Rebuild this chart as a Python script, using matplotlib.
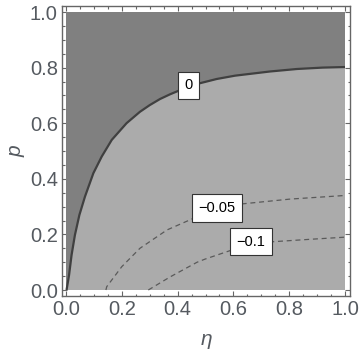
import matplotlib
matplotlib.use("Agg")
import matplotlib.pyplot as plt
from matplotlib.ticker import MultipleLocator
import numpy as np

# ---- data ----
levels = ["0", "\u22120.05", "\u22120.1"]

eta_0 = [0.002, 0.011, 0.020, 0.032, 0.048, 0.068, 0.098, 0.128, 0.164, 0.217,
         0.265, 0.300, 0.337, 0.373, 0.409, 0.473, 0.540, 0.606, 0.731, 0.828,
         0.920, 1.000]
p_0 = [0.000, 0.054, 0.126, 0.198, 0.270, 0.336, 0.420, 0.480, 0.540, 0.600,
       0.641, 0.665, 0.687, 0.704, 0.719, 0.742, 0.759, 0.771, 0.786, 0.795,
       0.800, 0.802]

eta_m005 = [0.143, 0.146, 0.200, 0.265, 0.362, 0.455, 0.541, 0.624, 0.803, 1.000]
p_m005 = [0.000, 0.012, 0.084, 0.150, 0.216, 0.257, 0.287, 0.309, 0.327, 0.340]

eta_m01 = [0.295, 0.373, 0.470, 0.498, 0.595, 0.663, 0.731, 0.885, 1.000]
p_m01 = [0.000, 0.047, 0.100, 0.111, 0.144, 0.160, 0.173, 0.183, 0.190]

xticks = [0.0, 0.2, 0.4, 0.6, 0.8, 1.0]
yticks = [0.0, 0.2, 0.4, 0.6, 0.8, 1.0]
tick_labels = ["0.0", "0.2", "0.4", "0.6", "0.8", "1.0"]

# ---- figure ----
W, H = 360, 354
fig = plt.figure(figsize=(W / 100, H / 100), dpi=100)
ax = fig.add_axes([62 / W, (H - 296) / H, (350 - 62) / W, (296 - 6) / H])
ax.set_facecolor("white")

light = "#ababab"
dark = "#808080"

# light base rectangle over the data domain
ax.fill_between([0, 1], [0, 0], [1, 1], color=light, linewidth=0, zorder=1)
# dark region above the zero contour
poly_x = [0.0] + eta_0 + [1.0, 0.0]
poly_y = [0.0] + p_0 + [1.0, 1.0]
ax.fill(poly_x, poly_y, color=dark, linewidth=0, zorder=2)

ax.plot(eta_0, p_0, color="#404040", lw=1.6, zorder=3, solid_capstyle="butt")
ax.plot(eta_m005, p_m005, color="#5a5a5a", lw=0.9, ls=(0, (4, 3)), zorder=3)
ax.plot(eta_m01, p_m01, color="#5a5a5a", lw=0.9, ls=(0, (4, 3)), zorder=3)

label_pos = [(0.439, 0.736), (0.541, 0.295), (0.663, 0.173)]
for txt, (lx, ly) in zip(levels, label_pos):
    ax.text(lx, ly, txt, ha="center", va="center", fontsize=10.5,
            family="Liberation Sans", color="black", zorder=5,
            bbox=dict(boxstyle="square,pad=0.45", fc="white", ec="#333333", lw=0.8))

ax.set_xlim(-4 / 279, 1 + 5 / 279)
ax.set_ylim(-6 / 278, 1 + 6 / 278)

frame_col = "#666666"
for s in ax.spines.values():
    s.set_color(frame_col)
    s.set_linewidth(1.0)

ax.set_xticks(xticks)
ax.set_yticks(yticks)
ax.set_xticklabels(tick_labels)
ax.set_yticklabels(tick_labels)
ax.xaxis.set_minor_locator(MultipleLocator(0.05))
ax.yaxis.set_minor_locator(MultipleLocator(0.05))
ax.tick_params(which="both", direction="in", top=True, right=True,
               color=frame_col, width=0.8)
ax.tick_params(which="major", length=3.3, labelsize=14.5, labelcolor="#555a60", pad=3)
ax.tick_params(which="minor", length=1.8)
for lab in ax.get_xticklabels() + ax.get_yticklabels():
    lab.set_family("Liberation Sans")

ax.set_xlabel("\u03b7", fontsize=15, style="italic", color="#555a60",
              family="Liberation Sans", labelpad=8)
ax.set_ylabel("p", fontsize=15, style="italic", color="#555a60",
              family="Liberation Sans", labelpad=3)

fig.savefig("out.png", dpi=100)
